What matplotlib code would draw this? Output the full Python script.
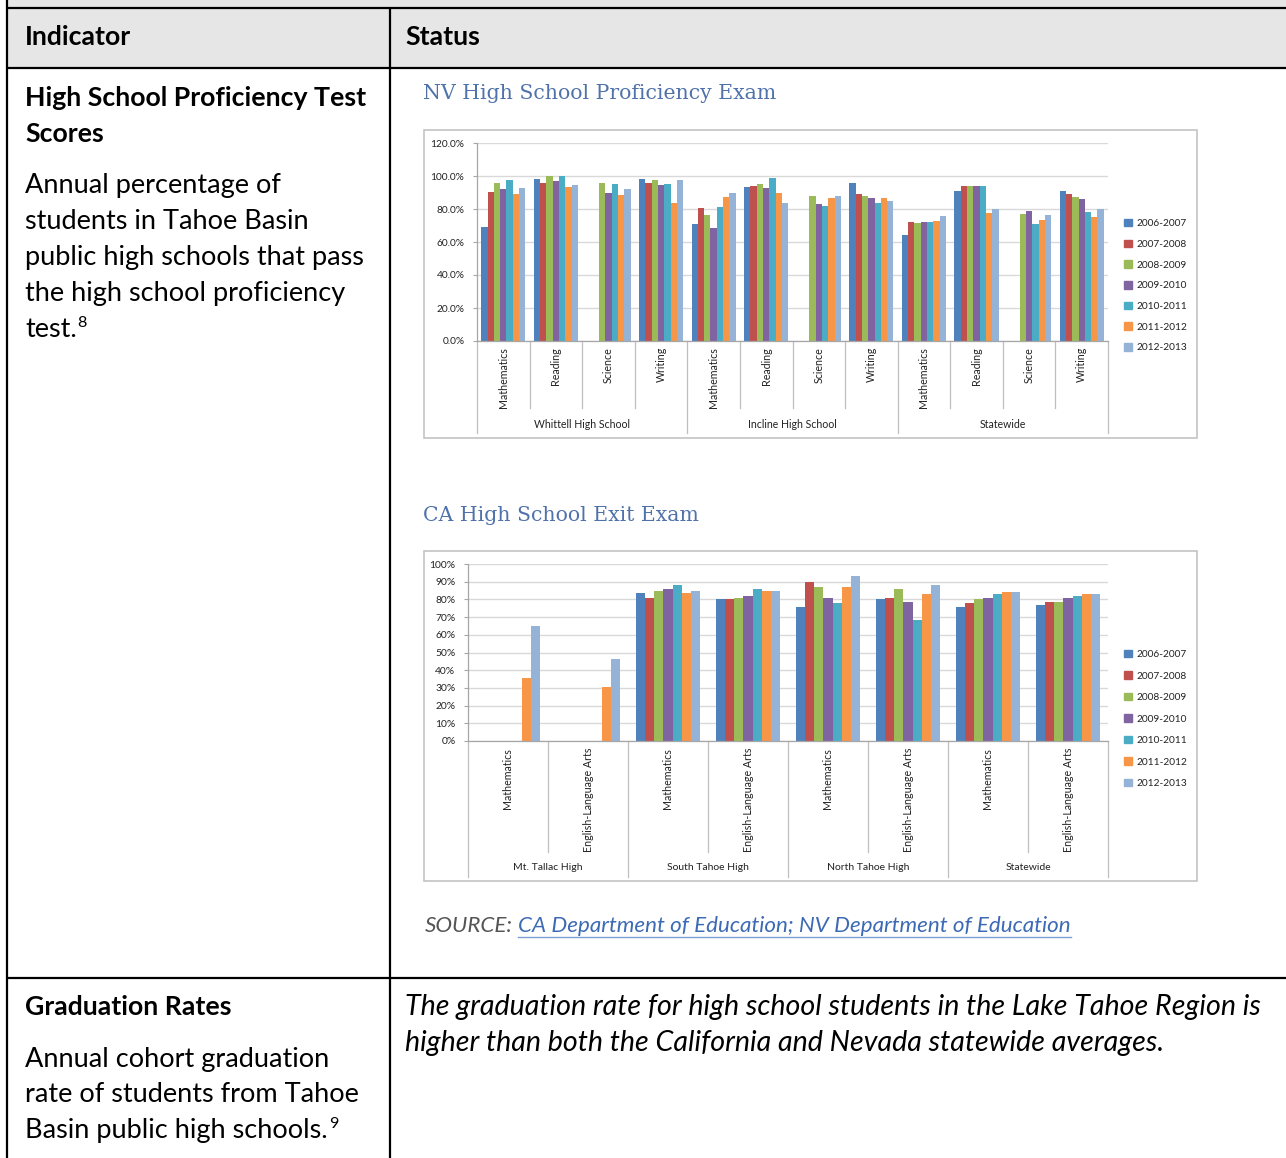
import numpy as np
import matplotlib
matplotlib.use("Agg")
import matplotlib.pyplot as plt
from matplotlib.patches import Rectangle, Patch

nan = np.nan

# ---- data -------------------------------------------------------------
years = ["2006-2007", "2007-2008", "2008-2009", "2009-2010",
         "2010-2011", "2011-2012", "2012-2013"]
year_colors = ["#4f81bd", "#c0504d", "#9bbb59", "#8064a2",
               "#4bacc6", "#f79646", "#95b3d7"]

# Nevada proficiency exam: schools x subjects
nv_schools = ["Whittell High School", "Incline High School", "Statewide"]
nv_subjects = ["Mathematics", "Reading", "Science", "Writing"]
nv_2006_2007 = [69.3, 98.1, nan, 98.1, 70.9, 93.2, nan, 96.0, 64.2, 91.2, nan, 91.2]
nv_2007_2008 = [90.6, 96.0, nan, 96.0, 80.9, 93.8, nan, 89.0, 72.3, 93.8, nan, 89.2]
nv_2008_2009 = [95.6, 100.0, 95.6, 97.7, 76.4, 95.2, 87.9, 88.1, 71.3, 94.0, 76.8, 87.5]
nv_2009_2010 = [92.0, 97.1, 89.6, 94.6, 68.3, 92.6, 82.9, 86.5, 71.9, 94.0, 78.8, 85.9]
nv_2010_2011 = [97.7, 100.0, 95.2, 95.2, 81.3, 98.7, 82.1, 83.5, 72.1, 94.0, 70.7, 78.0]
nv_2011_2012 = [89.0, 93.2, 88.6, 83.9, 87.1, 90.0, 86.5, 86.9, 72.9, 77.4, 73.1, 75.4]
nv_2012_2013 = [92.6, 94.6, 92.0, 97.7, 90.0, 83.9, 87.9, 85.1, 76.0, 79.8, 76.4, 80.0]
nv_ticks = [0, 20, 40, 60, 80, 100, 120]

# California exit exam: schools x subjects
ca_schools = ["Mt. Tallac High", "South Tahoe High", "North Tahoe High", "Statewide"]
ca_subjects = ["Mathematics", "English-Language Arts"]
ca_2006_2007 = [nan, nan, 83.7, 80.1, 75.9, 80.1, 75.9, 76.9]
ca_2007_2008 = [nan, nan, 80.7, 80.1, 90.0, 80.7, 77.8, 78.8]
ca_2008_2009 = [nan, nan, 84.8, 80.7, 87.1, 85.8, 80.1, 78.8]
ca_2009_2010 = [nan, nan, 85.8, 82.0, 80.7, 78.6, 80.7, 80.7]
ca_2010_2011 = [nan, nan, 88.1, 85.8, 77.7, 68.2, 83.0, 82.0]
ca_2011_2012 = [35.6, 30.5, 83.5, 84.8, 87.1, 83.0, 83.9, 83.0]
ca_2012_2013 = [65.0, 46.6, 84.8, 84.8, 93.0, 88.1, 83.9, 83.0]
ca_ticks = [0, 10, 20, 30, 40, 50, 60, 70, 80, 90, 100]

nv_series = [nv_2006_2007, nv_2007_2008, nv_2008_2009, nv_2009_2010,
             nv_2010_2011, nv_2011_2012, nv_2012_2013]
ca_series = [ca_2006_2007, ca_2007_2008, ca_2008_2009, ca_2009_2010,
             ca_2010_2011, ca_2011_2012, ca_2012_2013]

# ---- page -------------------------------------------------------------
W, H = 1286, 1158
fig = plt.figure(figsize=(W / 100, H / 100), dpi=100)
renderer = fig.canvas.get_renderer()

bg = fig.add_axes([0, 0, 1, 1])
bg.set_xlim(0, W)
bg.set_ylim(H, 0)
bg.axis("off")

SANS = "Lato"


def fit_size(text, target_px, **kw):
    t = fig.text(0, 0, text, fontsize=20, **kw)
    w = t.get_window_extent(renderer).width
    t.remove()
    return 20 * target_px / w


def px_axes(l, t, r, b):
    return fig.add_axes([l / W, 1 - b / H, (r - l) / W, (b - t) / H])


# table grid
LINE = dict(color="black", lw=1.6, solid_capstyle="butt")
bg.add_patch(Rectangle((7, 0), W - 7, 8, color="#e6e6e6", lw=0))
bg.add_patch(Rectangle((7, 8), W - 7, 60, color="#e6e6e6", lw=0))
bg.plot([7, W], [8, 8], **LINE)
bg.plot([7, W], [68, 68], **LINE)
bg.plot([7, W], [978, 978], **LINE)
bg.plot([7, 7], [0, H], **LINE)
bg.plot([390, 390], [8, H], **LINE)

head_fs = fit_size("High School Proficiency Test", 341, family=SANS, weight="bold")
body_fs = fit_size("public high schools that pass", 340, family=SANS)
ital_fs = fit_size("The graduation rate for high school students in the Lake Tahoe Region is",
                   856, family=SANS, style="italic")

bold_kw = dict(family=SANS, weight="bold", fontsize=head_fs, color="black", va="baseline")
body_kw = dict(family=SANS, fontsize=body_fs, color="black", va="baseline")

bg.text(25, 45, "Indicator", **bold_kw)
bg.text(405, 45, "Status", **bold_kw)

bg.text(25, 106, "High School Proficiency Test", **bold_kw)
bg.text(25, 142, "Scores", **bold_kw)
body1 = ["Annual percentage of", "students in Tahoe Basin",
         "public high schools that pass", "the high school proficiency", "test."]
for i, line in enumerate(body1):
    last = bg.text(25, 193 + 36 * i, line, **body_kw)
x_end = last.get_window_extent(renderer).x1
bg.text(x_end + 1, 193 + 36 * 4 - 10, "8", family=SANS, fontsize=body_fs * 0.6,
        va="baseline")

bg.text(25, 1015, "Graduation Rates", **bold_kw)
body2 = ["Annual cohort graduation", "rate of students from Tahoe",
         "Basin public high schools."]
for i, line in enumerate(body2):
    last = bg.text(25, 1067 + 35.5 * i, line, **body_kw)
x_end = last.get_window_extent(renderer).x1
bg.text(x_end + 1, 1067 + 35.5 * 2 - 10, "9", family=SANS, fontsize=body_fs * 0.6,
        va="baseline")

ital_kw = dict(family=SANS, style="italic", fontsize=ital_fs, color="black", va="baseline")
bg.text(405, 1015, "The graduation rate for high school students in the Lake Tahoe Region is",
        **ital_kw)
bg.text(405, 1051, "higher than both the California and Nevada statewide averages.", **ital_kw)

# chart titles and source line
TITLE_C = "#5072aa"
nv_title_fs = fit_size("NV High School Proficiency Exam", 352, family="DejaVu Serif")
bg.text(423, 99, "NV High School Proficiency Exam", family="DejaVu Serif",
        fontsize=nv_title_fs, color=TITLE_C, va="baseline")
bg.text(423, 521, "CA High School Exit Exam", family="DejaVu Serif",
        fontsize=nv_title_fs, color=TITLE_C, va="baseline")

link = "CA Department of Education; NV Department of Education"
src_fs = fit_size(link, 553, family=SANS, style="italic")
bg.text(425, 932, "SOURCE:", family=SANS, style="italic", fontsize=src_fs,
        color="#555555", va="baseline")
lt = bg.text(518, 932, link, family=SANS, style="italic", fontsize=src_fs,
             color="#3d6ab5", va="baseline")
bb = lt.get_window_extent(renderer)
bg.plot([518, bb.x1], [937, 937], color="#7d9fd6", lw=1.0)

# ---- charts -----------------------------------------------------------
GRID_C = "#d9d9d9"
AXIS_C = "#a6a6a6"
TXT_C = "#222222"


def bar_panel(frame, plot, series, subjects, schools, ticks, fmt, bar_w,
              inner_px, outer_px, gap_px, school_px, legend_xy,
              tick_fs, subj_fs, school_fs, leg_fs, leg_space):
    bg.add_patch(Rectangle((frame[0], frame[1]), frame[2] - frame[0], frame[3] - frame[1],
                           fill=False, ec="#bfbfbf", lw=1.1))
    ax = px_axes(*plot)
    ah = plot[3] - plot[1]
    nsub = len(subjects)
    ncat = nsub * len(schools)
    xs = np.arange(ncat)
    mid = (len(series) - 1) / 2
    for i, vals in enumerate(series):
        ax.bar(xs + (i - mid) * bar_w, vals, width=bar_w, color=year_colors[i],
               lw=0, label=years[i])
    ax.set_xlim(-0.5, ncat - 0.5)
    ax.set_ylim(ticks[0], ticks[-1])
    ax.set_yticks(ticks)
    ax.set_yticklabels([fmt.format(t) for t in ticks], family=SANS, fontsize=tick_fs,
                       color=TXT_C)
    ax.set_xticks([])
    ax.yaxis.grid(True, color=GRID_C, lw=1.0)
    ax.set_axisbelow(True)
    ax.patch.set_alpha(0)
    for s in ("top", "right"):
        ax.spines[s].set_visible(False)
    for s in ("left", "bottom"):
        ax.spines[s].set_color(AXIS_C)
        ax.spines[s].set_linewidth(0.9)
    ax.tick_params(axis="y", length=3, color=AXIS_C, pad=6)

    tr = ax.get_xaxis_transform()
    for k in range(ncat + 1):
        depth = outer_px if k % nsub == 0 else inner_px
        ax.plot([k - 0.5, k - 0.5], [0, -depth / ah], transform=tr, color="#bfbfbf",
                lw=0.9, clip_on=False)
    for k in range(ncat):
        ax.text(k, -gap_px / ah, subjects[k % nsub], rotation=90, ha="center", va="top",
                transform=tr, family=SANS, fontsize=subj_fs, color=TXT_C)
    for g, name in enumerate(schools):
        ax.text(g * nsub + (nsub - 1) / 2, -school_px / ah, name, ha="center",
                va="center", transform=tr, family=SANS, fontsize=school_fs, color=TXT_C)

    handles = [Patch(color=c) for c in year_colors]
    ax.legend(handles, years, loc="upper left",
              bbox_to_anchor=(legend_xy[0] / W, 1 - legend_xy[1] / H),
              bbox_transform=fig.transFigure, frameon=False, borderpad=0,
              borderaxespad=0, handlelength=0.75, handleheight=0.75,
              handletextpad=0.45, labelspacing=leg_space,
              prop=dict(family=SANS, size=leg_fs), labelcolor=TXT_C)
    return ax


leg_fs = fit_size("2006-2007", 51, family=SANS)

bar_panel(frame=(424, 130, 1197, 438), plot=(477, 143, 1108, 341),
          series=nv_series, subjects=nv_subjects, schools=nv_schools,
          ticks=nv_ticks, fmt="{:.1f}%", bar_w=0.12,
          inner_px=67, outer_px=92, gap_px=6, school_px=83, legend_xy=(1124, 219),
          tick_fs=fit_size("120.0%", 34, family=SANS),
          subj_fs=fit_size("Mathematics", 61, family=SANS),
          school_fs=fit_size("Whittell High School", 96, family=SANS),
          leg_fs=leg_fs, leg_space=1.12)

bar_panel(frame=(424, 551, 1197, 881), plot=(468, 564, 1108, 741),
          series=ca_series, subjects=ca_subjects, schools=ca_schools,
          ticks=ca_ticks, fmt="{:.0f}%", bar_w=0.116,
          inner_px=111, outer_px=136, gap_px=7, school_px=127, legend_xy=(1124, 650),
          tick_fs=fit_size("100%", 26, family=SANS),
          subj_fs=fit_size("English-Language Arts", 104, family=SANS),
          school_fs=fit_size("South Tahoe High", 82, family=SANS),
          leg_fs=leg_fs, leg_space=1.2)

fig.savefig("out.png", dpi=100)
